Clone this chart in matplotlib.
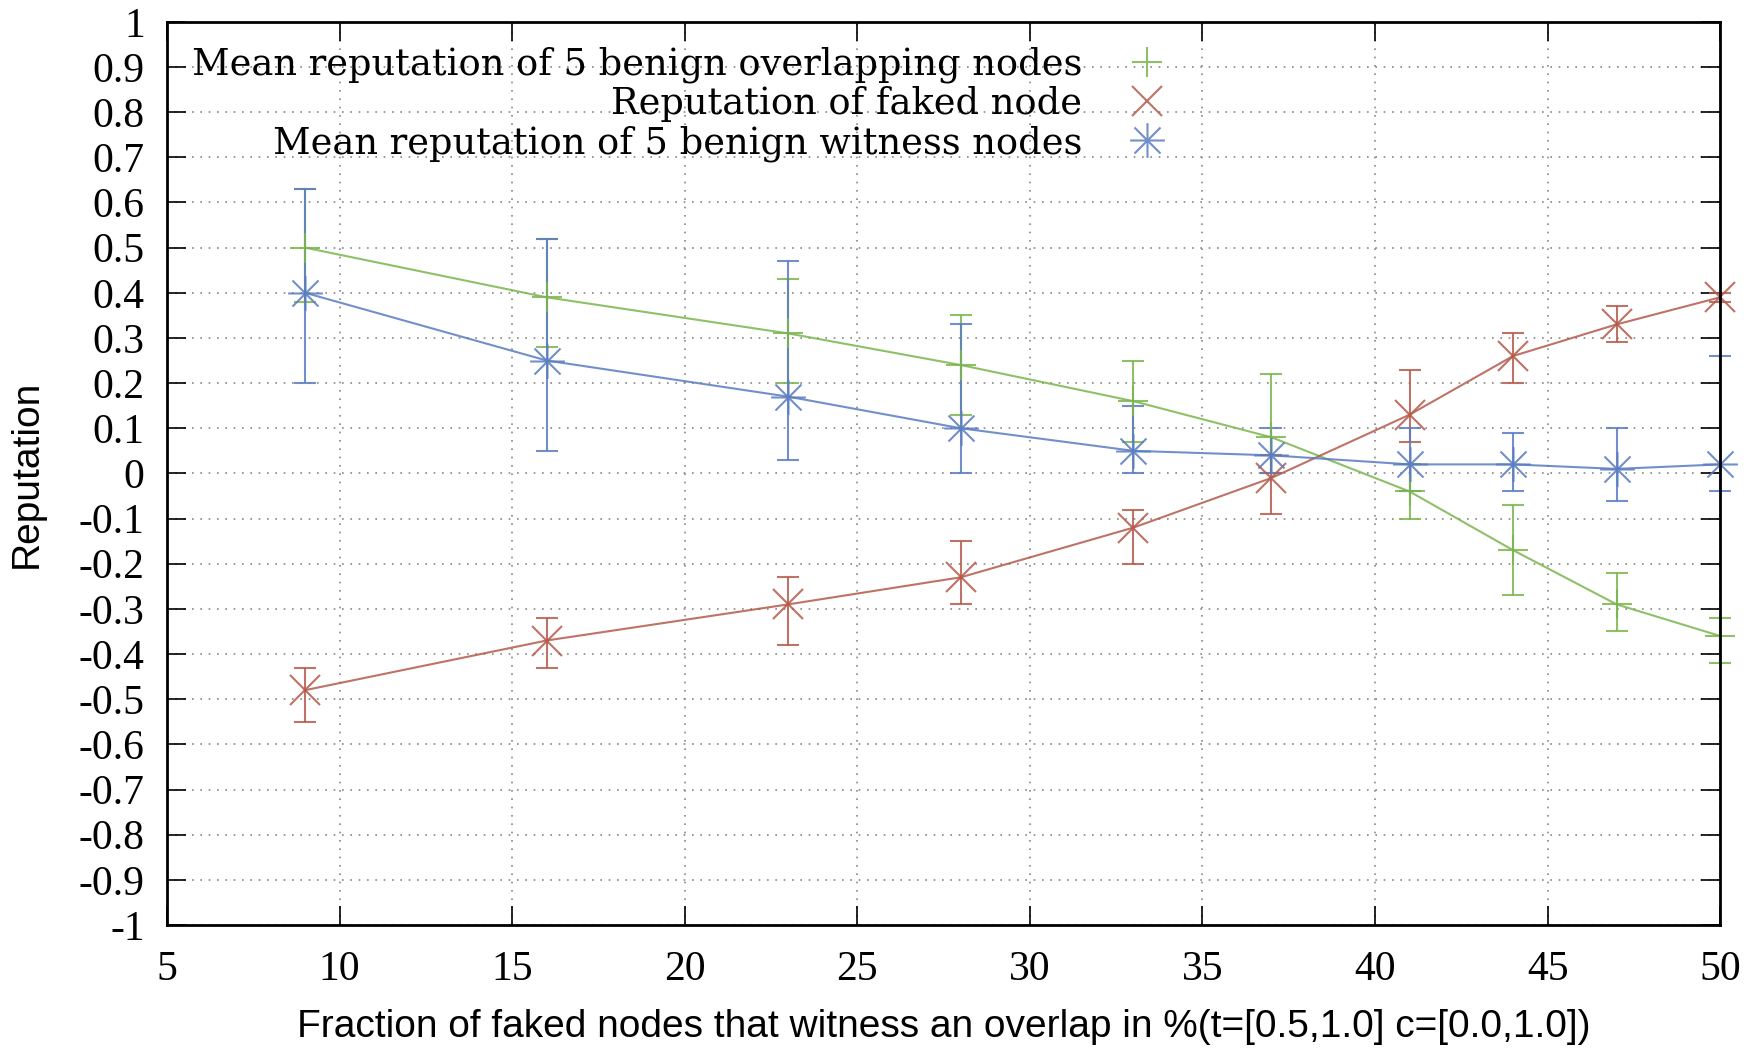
import numpy as np
import matplotlib
matplotlib.use('Agg')
import matplotlib.pyplot as plt
from matplotlib.path import Path
from matplotlib.lines import Line2D

# fraction of faked nodes (%)
x = [9, 16, 23, 28, 33, 37, 41, 44, 47, 50]

# mean reputation of 5 benign overlapping nodes
green_y = [0.50, 0.39, 0.31, 0.24, 0.16, 0.08, -0.04, -0.17, -0.29, -0.36]
green_lo = [0.38, 0.28, 0.20, 0.13, 0.07, 0.00, -0.10, -0.27, -0.35, -0.42]
green_hi = [0.63, 0.52, 0.43, 0.35, 0.25, 0.22, 0.02, -0.07, -0.22, -0.32]

# reputation of faked node
red_y = [-0.48, -0.37, -0.29, -0.23, -0.12, -0.01, 0.13, 0.26, 0.33, 0.39]
red_lo = [-0.55, -0.43, -0.38, -0.29, -0.20, -0.09, 0.07, 0.20, 0.29, 0.38]
red_hi = [-0.43, -0.32, -0.23, -0.15, -0.08, 0.04, 0.23, 0.31, 0.37, 0.40]

# mean reputation of 5 benign witness nodes
blue_y = [0.40, 0.25, 0.17, 0.10, 0.05, 0.04, 0.02, 0.02, 0.01, 0.02]
blue_lo = [0.20, 0.05, 0.03, 0.00, 0.00, 0.00, -0.04, -0.04, -0.06, -0.04]
blue_hi = [0.63, 0.52, 0.47, 0.33, 0.15, 0.10, 0.10, 0.09, 0.10, 0.26]

labels = ['Mean reputation of 5 benign overlapping nodes',
          'Reputation of faked node',
          'Mean reputation of 5 benign witness nodes']

green = '#7cb54e'
red = '#b35a4c'
blue = '#5a7cc0'

# gnuplot style star: + and x overlaid
star = Path([(-1, 0), (1, 0), (0, -1), (0, 1), (-0.75, -0.75), (0.75, 0.75),
             (-0.75, 0.75), (0.75, -0.75)],
            [Path.MOVETO, Path.LINETO] * 4)

serif = ['Liberation Serif', 'DejaVu Serif']
wide_serif = ['DejaVu Serif']
sans = ['Liberation Sans', 'DejaVu Sans']

fig = plt.figure(figsize=(17.65, 10.49), dpi=100)
ax = fig.add_axes([0.0946, 0.1182, 0.88, 0.861])

def err(y, lo, hi):
    y = np.array(y)
    return [y - np.array(lo), np.array(hi) - y]

series = [
    (green_y, green_lo, green_hi, green, '+', 22),
    (red_y, red_lo, red_hi, red, 'x', 22),
    (blue_y, blue_lo, blue_hi, blue, star, 25),
]
handles = []
for y, lo, hi, c, m, ms in series:
    ax.errorbar(x, y, yerr=err(y, lo, hi), color=c, lw=1.5, elinewidth=1.5,
                capsize=8, capthick=1.5, marker=m, ms=ms, mew=1.5,
                mfc='none', alpha=0.85, clip_on=False)
    handles.append(Line2D([], [], color=c, marker=m, ms=ms, mew=1.5,
                          ls='none', alpha=0.85))

ax.set_xlim(5, 50)
ax.set_ylim(-1, 1)
xt = np.arange(5, 51, 5)
yt = np.round(np.arange(-1, 1.01, 0.1), 1)
ax.set_xticks(xt)
ax.set_yticks(yt)
ax.set_xticklabels([str(v) for v in xt])
ax.set_yticklabels(['0' if v == 0 else ('%g' % v) for v in yt])
ax.tick_params(direction='in', length=14, width=1.2, top=True, right=True,
               labelsize=30)
ax.tick_params(axis='y', pad=16)
ax.tick_params(axis='x', pad=18)
for t in ax.get_xticklabels() + ax.get_yticklabels():
    t.set_family(serif)
ax.grid(True, ls=(0, (1, 4)), color='#888888', lw=1.2)
for s in ax.spines.values():
    s.set_linewidth(2)

ax.set_xlabel('Fraction of faked nodes that witness an overlap in %(t=[0.5,1.0] c=[0.0,1.0])',
              family=sans, fontsize=28, labelpad=15)
ax.set_ylabel('Reputation', family=sans, fontsize=28)
ax.yaxis.set_label_coords(-0.079, 0.5)

leg = ax.legend(handles, labels, loc='upper left', bbox_to_anchor=(0.0, 1.0),
                markerfirst=False, frameon=False, handlelength=1.5,
                handletextpad=1.0, labelspacing=0.08, borderaxespad=0.28,
                prop={'family': wide_serif, 'size': 26.5})

fig.savefig('out.png', dpi=100)
